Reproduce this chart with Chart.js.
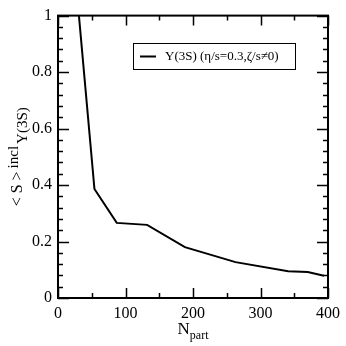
<!DOCTYPE html>
<html>
<head>
<meta charset="utf-8">
<script src="https://cdn.jsdelivr.net/npm/chart.js@4/dist/chart.umd.min.js"></script>
<style>
  html, body { margin: 0; padding: 0; background: #fff; }
  #wrap { width: 346px; height: 346px; }
</style>
</head>
<body>
<div id="wrap"><canvas id="myChart" width="346" height="346"></canvas></div>
<script>
// values
const nPart = [22, 54, 87, 132, 188, 263, 341, 370, 394];
const sIncl = [1.24, 0.386, 0.266, 0.259, 0.18, 0.127, 0.095, 0.092, 0.079];
const seriesLabel = "\u03A5(3S) (\u03B7/s=0.3,\u03B6/s\u22600)";

const serif = "'Liberation Serif', 'DejaVu Serif', serif";

// inward ticks on all four sides, axis titles with sub/superscripts, boxed legend
const decorPlugin = {
    id: "decor",
    afterDraw(chart) {
        let ctx = chart.ctx;
        let area = chart.chartArea;
        let xs = chart.scales.x;
        let ys = chart.scales.y;
        ctx.save();
        ctx.strokeStyle = "#000";
        ctx.lineWidth = 1.5;
        ctx.beginPath();
        for (let v = 0; v <= 400; v += 50) {
            let px = Math.round(xs.getPixelForValue(v)) + 0.5;
            let len = v % 100 == 0 ? 10 : 5;
            ctx.moveTo(px, area.bottom); ctx.lineTo(px, area.bottom - len);
            ctx.moveTo(px, area.top); ctx.lineTo(px, area.top + len);
        }
        for (let i = 0; i <= 25; i++) {
            let v = i * 0.04;
            let py = Math.round(ys.getPixelForValue(v)) + 0.5;
            let len = i % 5 == 0 ? 11 : 5;
            ctx.moveTo(area.left, py); ctx.lineTo(area.left + len, py);
            ctx.moveTo(area.right, py); ctx.lineTo(area.right - len, py);
        }
        ctx.stroke();

        // frame
        ctx.lineWidth = 2;
        ctx.strokeRect(area.left, area.top, area.right - area.left, area.bottom - area.top);

        // legend
        ctx.lineWidth = 1;
        ctx.strokeRect(133.5, 43.5, 162, 26);
        ctx.lineWidth = 2;
        ctx.beginPath();
        ctx.moveTo(140, 56.5); ctx.lineTo(156, 56.5);
        ctx.stroke();
        ctx.fillStyle = "#000";
        ctx.font = "13px " + serif;
        ctx.textBaseline = "middle";
        ctx.textAlign = "left";
        ctx.fillText(seriesLabel, 165, 57);

        // x title: N_part
        ctx.textBaseline = "alphabetic";
        ctx.font = "17px " + serif;
        let cx = (area.left + area.right) / 2;
        let wN = ctx.measureText("N").width;
        ctx.font = "12px " + serif;
        let wP = ctx.measureText("part").width;
        let x0 = cx - (wN + wP) / 2;
        ctx.font = "17px " + serif;
        ctx.fillText("N", x0, 334);
        ctx.font = "12px " + serif;
        ctx.fillText("part", x0 + wN, 339);

        // y title: <S>^incl_Y(3S), rotated
        ctx.translate(22, (area.top + area.bottom) / 2);
        ctx.rotate(-Math.PI / 2);
        let p1 = "< S >", p2 = "incl", p3 = "\u03A5(3S)";
        ctx.font = "16px " + serif;
        let w1 = ctx.measureText(p1).width + 3;
        ctx.font = "15px " + serif;
        let w2 = ctx.measureText(p2).width + 2;
        let w3 = ctx.measureText(p3).width;
        let tx = -(w1 + w2 + w3) / 2;
        ctx.font = "16px " + serif;
        ctx.fillText(p1, tx, 0);
        ctx.font = "15px " + serif;
        ctx.fillText(p2, tx + w1, -4.5);
        ctx.fillText(p3, tx + w1 + w2, 5);
        ctx.restore();
    },
};

const ctx = document.getElementById("myChart");
new Chart(ctx, {
    type: "scatter",
    data: {
        datasets: [
            {
                label: seriesLabel,
                data: nPart.map((n, i) => ({ x: n, y: sIncl[i] })),
                showLine: true,
                borderColor: "#000",
                borderWidth: 2,
                pointRadius: 0,
                tension: 0,
            },
        ],
    },
    options: {
        responsive: false,
        animation: false,
        layout: {
            padding: { top: 14, right: 14, left: 0, bottom: 0 },
        },
        plugins: {
            legend: { display: false },
            tooltip: { enabled: false },
        },
        scales: {
            x: {
                type: "linear",
                min: 0,
                max: 400,
                grid: { display: false, drawTicks: false },
                border: { display: false },
                ticks: {
                    stepSize: 100,
                    padding: 6,
                    color: "#000",
                    font: { family: serif, size: 16 },
                },
                afterFit(scale) {
                    scale.height = 48;
                },
            },
            y: {
                min: 0,
                max: 1,
                grid: { display: false, drawTicks: false },
                border: { display: false },
                ticks: {
                    stepSize: 0.2,
                    padding: 6,
                    color: "#000",
                    font: { family: serif, size: 16 },
                    callback: (v) => (v == 0 || v == 1 ? v + "" : v.toFixed(1)),
                },
                afterFit(scale) {
                    scale.width = 58;
                },
            },
        },
    },
    plugins: [decorPlugin],
});
</script>
</body>
</html>
